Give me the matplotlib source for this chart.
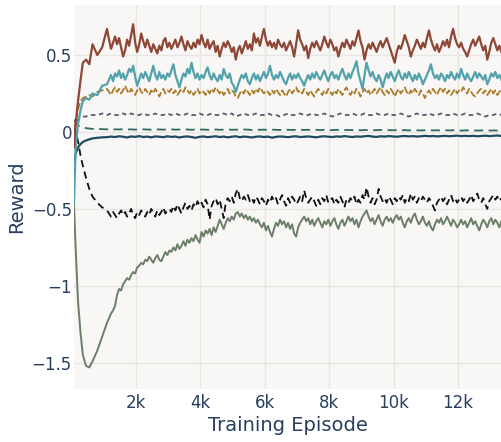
import numpy as np
import matplotlib
matplotlib.use("Agg")
import matplotlib.pyplot as plt

# episode grids: a few early points where the curves move fast,
# then a coarse grid for the smooth runs and a fine one for the noisy runs
early_episodes = [75, 125, 200, 275, 350, 450, 550, 650, 800, 950]
coarse_episodes = np.concatenate([early_episodes, np.arange(1100, 13351, 125)])
fine_episodes = np.concatenate([early_episodes, np.arange(1100, 13351, 62.5)])

reward_brown = [
    -0.10, 0.05, 0.20, 0.33, 0.45, 0.47, 0.44, 0.57, 0.50, 0.55,
    0.67, 0.60, 0.54, 0.58, 0.62, 0.57, 0.61, 0.55, 0.49, 0.53, 0.60, 0.56, 0.63, 0.70, 0.58, 0.52,
    0.57, 0.64, 0.59, 0.55, 0.60, 0.56, 0.52, 0.57, 0.54, 0.51, 0.56, 0.53, 0.59, 0.61, 0.55, 0.58,
    0.54, 0.57, 0.60, 0.55, 0.58, 0.62, 0.57, 0.53, 0.59, 0.56, 0.54, 0.58, 0.55, 0.60, 0.57, 0.63,
    0.58, 0.55, 0.60, 0.54, 0.57, 0.59, 0.52, 0.56, 0.49, 0.54, 0.58, 0.55, 0.59, 0.56, 0.52, 0.55,
    0.47, 0.53, 0.56, 0.51, 0.55, 0.59, 0.54, 0.57, 0.53, 0.64, 0.58, 0.61, 0.56, 0.62, 0.67, 0.60,
    0.56, 0.59, 0.55, 0.58, 0.54, 0.60, 0.57, 0.55, 0.58, 0.53, 0.56, 0.59, 0.55, 0.49, 0.57, 0.66,
    0.60, 0.57, 0.53, 0.56, 0.48, 0.54, 0.58, 0.55, 0.59, 0.56, 0.53, 0.57, 0.62, 0.58, 0.55, 0.60,
    0.57, 0.53, 0.55, 0.49, 0.54, 0.58, 0.55, 0.60, 0.57, 0.54, 0.59, 0.56, 0.61, 0.66, 0.59, 0.55,
    0.47, 0.53, 0.57, 0.54, 0.58, 0.55, 0.52, 0.56, 0.59, 0.55, 0.58, 0.61, 0.57, 0.53, 0.49, 0.45,
    0.52, 0.56, 0.54, 0.58, 0.63, 0.59, 0.55, 0.49, 0.53, 0.56, 0.60, 0.57, 0.54, 0.58, 0.55, 0.61,
    0.66, 0.60, 0.56, 0.53, 0.57, 0.52, 0.55, 0.59, 0.56, 0.60, 0.55, 0.62, 0.67, 0.61, 0.57, 0.55,
    0.58, 0.54, 0.52, 0.49, 0.53, 0.57, 0.60, 0.56, 0.59, 0.62, 0.57, 0.53, 0.56, 0.47, 0.52, 0.58,
    0.61, 0.57, 0.53, 0.56, 0.52,
]

reward_teal = [
    -0.46, -0.10, 0.05, 0.14, 0.20, 0.22, 0.21, 0.25, 0.24, 0.30,
    0.31, 0.34, 0.37, 0.33, 0.38, 0.36, 0.40, 0.35, 0.38, 0.34, 0.37, 0.41, 0.39, 0.43, 0.36, 0.30,
    0.34, 0.38, 0.35, 0.39, 0.36, 0.33, 0.38, 0.43, 0.37, 0.34, 0.39, 0.35, 0.37, 0.34, 0.38, 0.36,
    0.40, 0.44, 0.37, 0.33, 0.29, 0.34, 0.38, 0.36, 0.41, 0.38, 0.45, 0.39, 0.35, 0.38, 0.34, 0.37,
    0.35, 0.39, 0.42, 0.37, 0.34, 0.38, 0.35, 0.33, 0.37, 0.34, 0.41, 0.37, 0.35, 0.38, 0.32, 0.30,
    0.26, 0.30, 0.34, 0.37, 0.35, 0.38, 0.33, 0.31, 0.35, 0.38, 0.34, 0.37, 0.33, 0.36, 0.39, 0.35,
    0.38, 0.43, 0.37, 0.34, 0.37, 0.35, 0.39, 0.36, 0.33, 0.31, 0.35, 0.38, 0.34, 0.37, 0.35, 0.38,
    0.35, 0.33, 0.30, 0.34, 0.37, 0.34, 0.38, 0.35, 0.39, 0.36, 0.34, 0.37, 0.40, 0.36, 0.33, 0.37,
    0.39, 0.35, 0.37, 0.34, 0.38, 0.41, 0.37, 0.34, 0.38, 0.35, 0.39, 0.42, 0.46, 0.38, 0.33, 0.28,
    0.37, 0.45, 0.40, 0.36, 0.39, 0.35, 0.33, 0.37, 0.34, 0.29, 0.34, 0.38, 0.35, 0.39, 0.36, 0.33,
    0.37, 0.40, 0.36, 0.34, 0.38, 0.35, 0.39, 0.36, 0.33, 0.37, 0.34, 0.38, 0.35, 0.31, 0.34, 0.37,
    0.40, 0.44, 0.38, 0.35, 0.37, 0.34, 0.38, 0.36, 0.33, 0.37, 0.35, 0.39, 0.36, 0.34, 0.38, 0.35,
    0.41, 0.37, 0.34, 0.38, 0.35, 0.33, 0.36, 0.39, 0.35, 0.38, 0.36, 0.34, 0.37, 0.31, 0.34, 0.38,
    0.36, 0.39, 0.35, 0.37, 0.34,
]

reward_gold = [
    -0.05, 0.06, 0.15, 0.20, 0.22, 0.23, 0.24, 0.23, 0.26, 0.27,
    0.28, 0.26, 0.24, 0.27, 0.29, 0.26, 0.28, 0.25, 0.27, 0.30, 0.27, 0.25, 0.28, 0.26, 0.24, 0.27,
    0.29, 0.26, 0.25, 0.28, 0.26, 0.24, 0.27, 0.25, 0.28, 0.26, 0.23, 0.26, 0.28, 0.25, 0.27, 0.26,
    0.28, 0.25, 0.27, 0.24, 0.26, 0.28, 0.26, 0.29, 0.27, 0.25, 0.27, 0.24, 0.26, 0.28, 0.25, 0.27,
    0.26, 0.24, 0.27, 0.25, 0.28, 0.26, 0.29, 0.27, 0.25, 0.27, 0.24, 0.26, 0.28, 0.25, 0.27, 0.26,
    0.23, 0.22, 0.25, 0.27, 0.25, 0.28, 0.26, 0.24, 0.27, 0.25, 0.28, 0.26, 0.29, 0.27, 0.25, 0.27,
    0.26, 0.24, 0.27, 0.25, 0.28, 0.26, 0.24, 0.27, 0.25, 0.23, 0.26, 0.28, 0.25, 0.27, 0.29, 0.26,
    0.27, 0.25, 0.28, 0.26, 0.24, 0.27, 0.25, 0.23, 0.26, 0.28, 0.26, 0.24, 0.27, 0.25, 0.28, 0.26,
    0.24, 0.27, 0.25, 0.28, 0.26, 0.24, 0.27, 0.29, 0.26, 0.24, 0.27, 0.25, 0.28, 0.26, 0.23, 0.26,
    0.28, 0.25, 0.27, 0.24, 0.26, 0.28, 0.25, 0.27, 0.29, 0.26, 0.24, 0.27, 0.25, 0.28, 0.26, 0.23,
    0.26, 0.28, 0.25, 0.27, 0.29, 0.26, 0.24, 0.27, 0.25, 0.28, 0.26, 0.24, 0.27, 0.25, 0.22, 0.25,
    0.27, 0.25, 0.28, 0.26, 0.24, 0.27, 0.29, 0.26, 0.28, 0.25, 0.27, 0.24, 0.26, 0.28, 0.25, 0.27,
    0.26, 0.29, 0.27, 0.25, 0.28, 0.26, 0.24, 0.23, 0.25, 0.27, 0.28, 0.25, 0.27, 0.24, 0.26, 0.28,
    0.25, 0.27, 0.24, 0.26, 0.28,
]

reward_gray = [
    0.02, 0.06, 0.08, 0.09, 0.10, 0.10, 0.11, 0.11, 0.11, 0.12,
    0.11, 0.12, 0.11, 0.11, 0.12, 0.11, 0.12, 0.11, 0.11, 0.12,
    0.11, 0.11, 0.12, 0.11, 0.11, 0.12, 0.11, 0.12, 0.11, 0.11,
    0.12, 0.11, 0.11, 0.12, 0.11, 0.11, 0.12, 0.11, 0.11, 0.12,
    0.11, 0.12, 0.10, 0.11, 0.12, 0.11, 0.11, 0.12, 0.11, 0.11,
    0.12, 0.11, 0.11, 0.10, 0.11, 0.12, 0.11, 0.11, 0.12, 0.11,
    0.11, 0.12, 0.11, 0.11, 0.12, 0.11, 0.10, 0.11, 0.12, 0.11,
    0.11, 0.12, 0.11, 0.11, 0.12, 0.11, 0.11, 0.12, 0.11, 0.11,
    0.12, 0.11, 0.11, 0.12, 0.11, 0.10, 0.11, 0.12, 0.11, 0.11,
    0.12, 0.11, 0.11, 0.12, 0.11, 0.11, 0.12, 0.11, 0.11, 0.12,
    0.11, 0.11, 0.12, 0.11, 0.10, 0.11, 0.11, 0.12, 0.11,
]

reward_slate = [
    0.080, 0.060, 0.040, 0.035, 0.030, 0.025, 0.022, 0.020, 0.020, 0.018,
    0.017, 0.016, 0.017, 0.016, 0.018, 0.016, 0.017, 0.015, 0.016, 0.017,
    0.016, 0.015, 0.017, 0.016, 0.015, 0.016, 0.017, 0.015, 0.016, 0.015,
    0.016, 0.014, 0.016, 0.015, 0.016, 0.014, 0.015, 0.016, 0.014, 0.015,
    0.016, 0.014, 0.015, 0.014, 0.016, 0.015, 0.013, 0.015, 0.014, 0.015,
    0.013, 0.015, 0.014, 0.013, 0.015, 0.014, 0.013, 0.014, 0.015, 0.013,
    0.014, 0.013, 0.014, 0.012, 0.014, 0.013, 0.012, 0.014, 0.013, 0.012,
    0.013, 0.012, 0.013, 0.011, 0.013, 0.012, 0.011, 0.012, 0.013, 0.011,
    0.012, 0.011, 0.012, 0.011, 0.012, 0.010, 0.012, 0.011, 0.010, 0.011,
    0.012, 0.010, 0.011, 0.010, 0.011, 0.010, 0.011, 0.010, 0.009, 0.010,
    0.011, 0.010, 0.009, 0.010, 0.011, 0.009, 0.010, 0.009, 0.010,
]

reward_navy = [
    -0.250, -0.140, -0.100, -0.080, -0.065, -0.055, -0.048, -0.042, -0.038, -0.035,
    -0.034, -0.030, -0.033, -0.028, -0.031, -0.036, -0.029, -0.032, -0.027, -0.033,
    -0.030, -0.035, -0.029, -0.031, -0.034, -0.028, -0.032, -0.030, -0.036, -0.031,
    -0.029, -0.033, -0.038, -0.032, -0.029, -0.034, -0.031, -0.028, -0.033, -0.030,
    -0.035, -0.031, -0.028, -0.034, -0.030, -0.032, -0.036, -0.031, -0.029, -0.033,
    -0.030, -0.037, -0.032, -0.029, -0.031, -0.034, -0.030, -0.028, -0.033, -0.031,
    -0.029, -0.032, -0.035, -0.030, -0.028, -0.031, -0.033, -0.029, -0.031, -0.027,
    -0.030, -0.033, -0.029, -0.031, -0.028, -0.026, -0.030, -0.032, -0.028, -0.030,
    -0.027, -0.029, -0.031, -0.028, -0.026, -0.029, -0.027, -0.030, -0.028, -0.025,
    -0.028, -0.026, -0.029, -0.027, -0.025, -0.028, -0.026, -0.024, -0.027, -0.025,
    -0.027, -0.025, -0.028, -0.026, -0.024, -0.027, -0.025, -0.023, -0.026,
]

reward_black = [
    0.04, 0.00, -0.06, -0.15, -0.22, -0.30, -0.37, -0.42, -0.46, -0.49,
    -0.51, -0.53, -0.55, -0.52, -0.54, -0.56, -0.53, -0.51, -0.54, -0.52, -0.55, -0.53, -0.50, -0.54, -0.56, -0.52,
    -0.54, -0.51, -0.53, -0.55, -0.52, -0.54, -0.50, -0.53, -0.55, -0.51, -0.54, -0.52, -0.49, -0.53, -0.51, -0.50,
    -0.52, -0.48, -0.51, -0.47, -0.50, -0.53, -0.49, -0.46, -0.50, -0.48, -0.51, -0.47, -0.49, -0.45, -0.48, -0.46,
    -0.49, -0.44, -0.47, -0.57, -0.48, -0.45, -0.43, -0.47, -0.44, -0.50, -0.56, -0.46, -0.43, -0.45, -0.42, -0.46,
    -0.40, -0.37, -0.43, -0.45, -0.42, -0.44, -0.41, -0.45, -0.43, -0.46, -0.42, -0.44, -0.47, -0.43, -0.45, -0.48,
    -0.44, -0.46, -0.42, -0.45, -0.43, -0.47, -0.44, -0.41, -0.45, -0.48, -0.43, -0.46, -0.42, -0.44, -0.47, -0.45,
    -0.42, -0.45, -0.38, -0.43, -0.46, -0.44, -0.42, -0.45, -0.48, -0.44, -0.47, -0.43, -0.45, -0.41, -0.46, -0.44,
    -0.43, -0.47, -0.44, -0.46, -0.42, -0.45, -0.49, -0.44, -0.46, -0.43, -0.45, -0.42, -0.47, -0.44, -0.46, -0.41,
    -0.44, -0.36, -0.42, -0.46, -0.43, -0.47, -0.44, -0.37, -0.42, -0.45, -0.43, -0.46, -0.42, -0.44, -0.47, -0.43,
    -0.45, -0.42, -0.44, -0.41, -0.46, -0.43, -0.45, -0.40, -0.44, -0.42, -0.46, -0.43, -0.45, -0.42, -0.44, -0.46,
    -0.43, -0.45, -0.48, -0.51, -0.46, -0.44, -0.42, -0.45, -0.43, -0.47, -0.44, -0.41, -0.45, -0.43, -0.46, -0.44,
    -0.42, -0.45, -0.43, -0.46, -0.44, -0.41, -0.45, -0.43, -0.40, -0.44, -0.46, -0.43, -0.47, -0.50, -0.45, -0.43,
    -0.41, -0.44, -0.42, -0.45, -0.43,
]

reward_green = [
    -0.47, -0.75, -1.10, -1.30, -1.45, -1.52, -1.53, -1.49, -1.42, -1.33,
    -1.24, -1.21, -1.18, -1.16, -1.13, -1.06, -1.02, -1.03, -0.99, -0.97, -0.95, -0.96, -0.93, -0.91, -0.92, -0.88,
    -0.87, -0.85, -0.86, -0.83, -0.84, -0.81, -0.83, -0.85, -0.82, -0.80, -0.83, -0.84, -0.81, -0.78, -0.80, -0.77,
    -0.78, -0.75, -0.77, -0.73, -0.76, -0.74, -0.71, -0.74, -0.70, -0.72, -0.69, -0.71, -0.67, -0.70, -0.72, -0.65,
    -0.68, -0.64, -0.66, -0.63, -0.67, -0.62, -0.65, -0.61, -0.57, -0.60, -0.63, -0.59, -0.56, -0.58, -0.55, -0.57,
    -0.53, -0.52, -0.55, -0.53, -0.56, -0.54, -0.57, -0.55, -0.58, -0.56, -0.59, -0.57, -0.60, -0.62, -0.59, -0.64,
    -0.61, -0.65, -0.68, -0.63, -0.59, -0.61, -0.57, -0.60, -0.58, -0.62, -0.59, -0.63, -0.60, -0.66, -0.68, -0.62,
    -0.59, -0.57, -0.55, -0.58, -0.56, -0.60, -0.57, -0.61, -0.58, -0.56, -0.59, -0.62, -0.58, -0.60, -0.57, -0.61,
    -0.58, -0.56, -0.60, -0.63, -0.59, -0.57, -0.61, -0.58, -0.55, -0.58, -0.56, -0.60, -0.57, -0.62, -0.58, -0.55,
    -0.53, -0.51, -0.55, -0.58, -0.56, -0.60, -0.57, -0.54, -0.58, -0.61, -0.57, -0.55, -0.58, -0.56, -0.59, -0.56,
    -0.54, -0.57, -0.55, -0.59, -0.62, -0.58, -0.56, -0.59, -0.55, -0.53, -0.57, -0.60, -0.58, -0.55, -0.59, -0.61,
    -0.58, -0.62, -0.64, -0.60, -0.57, -0.59, -0.56, -0.60, -0.58, -0.55, -0.58, -0.61, -0.57, -0.59, -0.62, -0.60,
    -0.57, -0.60, -0.58, -0.62, -0.59, -0.56, -0.60, -0.58, -0.61, -0.64, -0.60, -0.57, -0.59, -0.62, -0.58, -0.56,
    -0.60, -0.57, -0.59, -0.62, -0.58,
]

x_ticks = [2000, 4000, 6000, 8000, 10000, 12000]
x_tick_labels = ["2k", "4k", "6k", "8k", "10k", "12k"]
y_ticks = [-1.5, -1.0, -0.5, 0.0, 0.5]
y_tick_labels = ["\u22121.5", "\u22121", "\u22120.5", "0", "0.5"]

text_color = "#2a3f5f"

fig = plt.figure(figsize=(5.02, 4.42), dpi=100)
ax = fig.add_axes([0.1474, 0.12, 0.8526, 0.8687])
ax.set_facecolor("#f8f7f5")

ax.plot(fine_episodes, reward_green, color="#6b7f68", lw=1.4)
ax.plot(fine_episodes, reward_black, color="#111111", lw=1.3, dashes=(4, 2.5))
ax.plot(coarse_episodes, reward_navy, color="#1e4a62", lw=1.6)
ax.plot(coarse_episodes, reward_slate, color="#2e6a64", lw=1.3, dashes=(5, 3))
ax.plot(coarse_episodes, reward_gray, color="#5b5a6e", lw=1.3, dashes=(2.5, 2))
ax.plot(fine_episodes, reward_gold, color="#a97b2b", lw=1.3, dashes=(4, 1.5))
ax.plot(fine_episodes, reward_teal, color="#52a2ab", lw=1.6)
ax.plot(fine_episodes, reward_brown, color="#8e4636", lw=1.6)

ax.set_xlim(75, 13370)
ax.set_ylim(-1.67, 0.825)
ax.set_xticks(x_ticks)
ax.set_xticklabels(x_tick_labels)
ax.set_yticks(y_ticks)
ax.set_yticklabels(y_tick_labels)

ax.grid(True, color="#e8e6e3", lw=1)
ax.set_axisbelow(True)
for s in ax.spines.values():
    s.set_visible(False)
ax.tick_params(length=0, labelsize=12, colors=text_color)
ax.tick_params(axis="y", pad=1.5)
ax.tick_params(axis="x", pad=3.5)

ax.set_xlabel("Training Episode", fontsize=14, color=text_color, labelpad=3)
ax.set_ylabel("Reward", fontsize=14, color=text_color)
ax.yaxis.set_label_coords(-0.112, 0.5)

fig.savefig("out.png", dpi=100)
